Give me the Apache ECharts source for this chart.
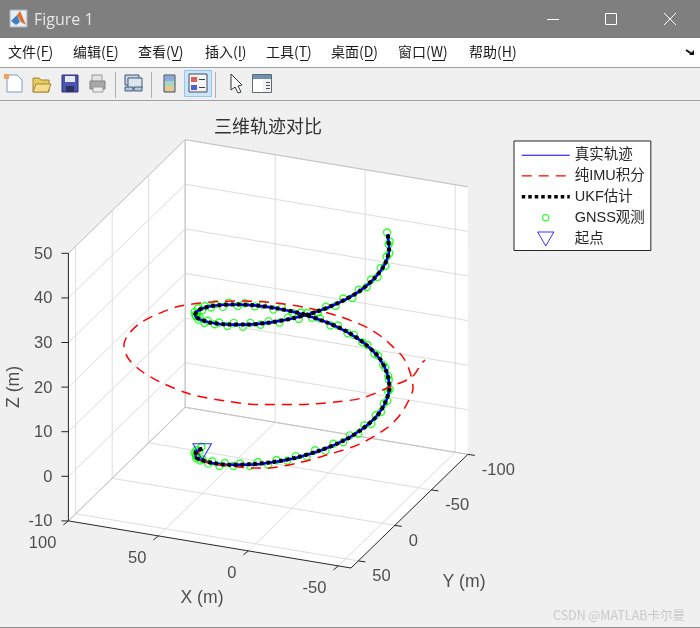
<!DOCTYPE html>
<html>
<head>
<meta charset="utf-8">
<title>三维轨迹对比</title>
<script src="https://cdn.jsdelivr.net/npm/echarts@6/dist/echarts.min.js"></script>
<style>
  html, body { margin: 0; padding: 0; background: #f0f0f0; }
  #chart { width: 700px; height: 628px; }
</style>
</head>
<body>
<div id="chart"></div>
<script>
// 轴刻度
const xTicks = [100, 50, 0, -50];
const yTicks = [-100, -50, 0, 50];
const zTicks = [-10, 0, 10, 20, 30, 40, 50];
const xLim = [-57, 100];
const yLim = [-100, 60];
const zLim = [-10, 50];

// 真实轨迹
const trueX = [50, 48.4, 43.9, 36.6, 27, 15.8, 3.5, -8.9, -20.8, -31.4, -40.1, -46.2, -49.5, -49.7, -46.8, -41, -32.7, -22.3, -10.5, 1.9, 14.2, 25.6, 35.4, 43.1, 48, 50, 48.8, 44.7, 37.7, 28.4, 17.3, 5.2, -7.3, -19.4, -30.1, -39, -45.6, -49.2, -49.9, -47.4, -42];
const trueY = [0, 12.4, 24, 34.1, 42.1, 47.4, 49.9, 49.2, 45.5, 38.9, 29.9, 19.1, 7.1, -5.4, -17.5, -28.6, -37.8, -44.8, -48.9, -50, -47.9, -42.9, -35.3, -25.4, -14, -1.7, 10.8, 22.5, 32.8, 41.2, 46.9, 49.7, 49.5, 46.1, 39.9, 31.3, 20.6, 9, -3.8, -15.9, -27.2];
const trueZ = [0, 1.25, 2.5, 3.75, 5, 6.25, 7.5, 8.75, 10, 11.25, 12.5, 13.75, 15, 16.25, 17.5, 18.75, 20, 21.25, 22.5, 23.75, 25, 26.25, 27.5, 28.75, 30, 31.25, 32.5, 33.75, 35, 36.25, 37.5, 38.75, 40, 41.25, 42.5, 43.75, 45, 46.25, 47.5, 48.75, 50];

// 纯IMU积分
const imuX = [50, 44, 27.2, 13.6, 1.4, -7.9, -25.3, -39.3, -50.2, -58, -58.9, -57.4, -55.2, -48.1, -39.7, -32.2, -24.3, -15.5, -6.7, 1.2, 17.1, 33.5, 48.3, 61.4, 73.5, 79.6, 84.2, 84.1, 81.1, 73.3, 63.5, 50.4, 32.5, 14.6, -2.6, -20.1, -33.7, -43.5, -50.3, -53.7, -50.5, -50.5];
const imuY = [0, 24.2, 42.6, 49.1, 54.4, 56.8, 54.2, 45.1, 31.5, 13.1, -2.4, -16.9, -29.4, -42.7, -53.9, -58.7, -63.1, -65.7, -65.6, -65.6, -63.8, -59, -51.7, -41.6, -27.6, -15.2, 0.8, 17.6, 30.5, 44.2, 51.9, 56.9, 60, 56, 50.6, 38.8, 24.5, 11.6, -12.7, -31.7, -53.3, -57.5];
const imuZ = [0, 2.5, 5, 6.4, 7.6, 8.6, 10.5, 12, 12.8, 14, 14.5, 15, 16, 17, 18, 19, 20, 21, 22, 22.6, 23.6, 24.4, 25, 25.5, 26, 26, 26, 26, 26, 25.8, 25, 24, 23, 22, 21.5, 20.8, 20, 19.5, 18.8, 18, 17.5, 17.5];

// UKF估计
const ukfX = [50, 48.7, 43.6, 36.9, 27.3, 15.5, 3.8, -8.6, -21.1, -31.1, -40.4, -46, -49.8, -49.4, -47.1, -40.7, -33, -22, -10.8, 2.2, 13.9, 25.9, 35.1, 43.4, 47.7, 50.3, 48.5, 45, 37.4, 28.7, 17, 5.5, -7.6, -19.1, -30.4, -38.7, -45.9, -49, -50.1, -47.2, -42];
const ukfY = [0, 12.1, 24.3, 33.8, 42.4, 47.1, 50.2, 48.9, 45.8, 38.6, 30.2, 18.8, 7.4, -5.7, -17.2, -28.9, -37.5, -45.1, -48.6, -50.3, -47.6, -43.2, -35, -25.7, -13.7, -2, 11.1, 22.2, 33.1, 40.9, 47.2, 49.4, 49.8, 45.8, 40.2, 31, 20.9, 8.7, -3.5, -16.2, -27.2];
const ukfZ = [0, 1.3, 2.4, 3.8, 5.1, 6.2, 7.6, 8.7, 10.1, 11.2, 12.6, 13.7, 15.1, 16.2, 17.6, 18.7, 20.1, 21.2, 22.6, 23.7, 25.1, 26.2, 27.6, 28.7, 30.1, 31.2, 32.6, 33.7, 35.1, 36.2, 37.6, 38.7, 40.1, 41.2, 42.6, 43.7, 45.1, 46.2, 47.6, 48.7, 50];

// GNSS观测
const gnssX = [50.6, 49.3, 49.5, 47.2, 46.6, 43.3, 41.9, 37.7, 35.4, 30.5, 27.6, 22.1, 18.8, 12.8, 9.1, 3, -0.9, -7, -10.8, -16.7, -20.2, -25.8, -28.8, -33.9, -36.3, -40.7, -42.2, -45.7, -46.6, -49.1, -49, -50.5, -49.4, -49.9, -47.8, -47.3, -44.5, -42.9, -39.1, -36.8, -32.1, -29.3, -23.9, -20.6, -14.8, -11.1, -5, -1.2, 5, 8.7, 14.8, 18.3, 24, 27.1, 32.3, 34.8, 39.4, 41.1, 44.9, 45.8, 48.6, 48.6, 50.4, 49.4, 50.2, 48.2, 48.1, 45.1, 44, 40.2, 38.3, 33.6, 31, 25.7, 22.6, 16.7, 13.1, 7.1, 3.3, -2.9, -6.7, -12.8, -16.4, -22.2, -25.4, -30.7, -33.4, -37.9, -40, -43.9, -45, -48, -48.1, -50.2, -49.4, -50.5, -48.7, -48.7, -45.9, -45.1, -41.4];
const gnssY = [-0.6, 5.6, 9.3, 15.4, 18.9, 24.6, 27.6, 32.8, 35.3, 39.8, 41.5, 45.2, 46, 48.8, 48.7, 50.5, 49.4, 50.2, 48.1, 47.9, 44.9, 43.8, 39.8, 37.9, 33.2, 30.5, 25.2, 22, 16.1, 12.6, 6.5, 2.7, -3.5, -7.3, -13.4, -16.9, -22.7, -25.9, -31.2, -33.8, -38.4, -40.3, -44.2, -45.2, -48.2, -48.3, -50.3, -49.4, -50.4, -48.5, -48.5, -45.7, -44.8, -41, -39.3, -34.7, -32.2, -26.9, -23.8, -18.1, -14.6, -8.5, -4.8, 1.4, 5.2, 11.4, 15, 20.8, 24.1, 29.5, 32.2, 37.1, 39.1, 43.1, 44.3, 47.5, 47.8, 50, 49.3, 50.5, 48.9, 49.1, 46.4, 45.7, 42.1, 40.5, 36.1, 33.9, 28.6, 25.7, 20, 16.4, 10.5, 6.8, 0.6, -3.2, -9.3, -13, -18.9, -22.3, -27.8];
const gnssZ = [0.3, 0.4, 1.2, 1.3, 2.3, 2.2, 3.2, 3.4, 4.2, 4.3, 5.3, 5.2, 6.2, 6.4, 7.2, 7.3, 8.3, 8.2, 9.2, 9.4, 10.2, 10.3, 11.3, 11.2, 12.2, 12.4, 13.2, 13.3, 14.3, 14.2, 15.2, 15.4, 16.2, 16.3, 17.3, 17.2, 18.2, 18.4, 19.2, 19.3, 20.3, 20.2, 21.2, 21.4, 22.2, 22.3, 23.3, 23.2, 24.2, 24.4, 25.2, 25.3, 26.3, 26.2, 27.2, 27.4, 28.2, 28.3, 29.3, 29.2, 30.2, 30.4, 31.2, 31.3, 32.3, 32.2, 33.2, 33.4, 34.2, 34.3, 35.3, 35.2, 36.2, 36.4, 37.2, 37.3, 38.3, 38.2, 39.2, 39.4, 40.2, 40.3, 41.3, 41.2, 42.2, 42.4, 43.2, 43.3, 44.3, 44.2, 45.2, 45.4, 46.2, 46.3, 47.3, 47.2, 48.2, 48.4, 49.2, 49.3, 50.2];

// 起点
const startPoint = [50, 0, 0];

// 菜单 [文字, x, 下划线x, 下划线长]
const menuItems = [['文件(F)', 8, 42, 8], ['编辑(E)', 73, 107, 8], ['查看(V)', 138, 172, 9], ['插入(I)', 205, 239, 3], ['工具(T)', 266, 300, 8], ['桌面(D)', 331, 365, 9], ['窗口(W)', 398, 432, 13], ['帮助(H)', 469, 503, 10]];

const fontLatin = '"Liberation Sans", "Noto Sans CJK SC", sans-serif';
const textColor = '#262626';

// 三维到屏幕像素，MATLAB 视角下的正交投影
function project(x, y, z) {
    return [
        351 - 1.8 * (x - xLim[0]) - 0.73 * (y - yLim[1]),
        568 - 0.3 * (x - xLim[0]) + 0.71 * (y - yLim[1]) - 4.46 * (z - zLim[0])
    ];
}

function projectAll(xs, ys, zs) {
    return xs.map((x, i) => project(x, ys[i], zs[i]));
}

function seg(a, b) {
    return project(a[0], a[1], a[2]).concat(project(b[0], b[1], b[2]));
}

// 一组线段画成一个 custom 系列
function segmentSeries(segs, color, width) {
    return {
        type: 'custom',
        silent: true,
        data: segs,
        renderItem: (params, api) => {
            const p1 = api.coord([api.value(0), api.value(1)]);
            const p2 = api.coord([api.value(2), api.value(3)]);
            return {
                type: 'line',
                shape: { x1: p1[0], y1: p1[1], x2: p2[0], y2: p2[1] },
                style: { stroke: color, lineWidth: width, fill: null }
            };
        }
    };
}

// 刻度文字用无符号点加标签
function labelSeries(points, align, offset, fontSize, rotate) {
    return {
        type: 'scatter',
        silent: true,
        symbolSize: 0,
        data: points,
        label: {
            show: true,
            position: 'inside',
            formatter: p => p.value[2],
            align: align,
            verticalAlign: 'middle',
            offset: offset,
            rotate: rotate || 0,
            fontFamily: fontLatin,
            fontSize: fontSize,
            color: textColor,
            textBorderWidth: 0
        }
    };
}

// 坐标区白底
const backCorners = [
    [xLim[1], yLim[1], zLim[0]], [xLim[1], yLim[1], zLim[1]], [xLim[1], yLim[0], zLim[1]],
    [xLim[0], yLim[0], zLim[1]], [xLim[0], yLim[0], zLim[0]], [xLim[0], yLim[1], zLim[0]]
].map(c => project(c[0], c[1], c[2]));

const wallSeries = {
    type: 'custom',
    silent: true,
    data: [backCorners.flat()],
    renderItem: (params, api) => {
        const pts = [];
        for (let i = 0; i < backCorners.length; i++) {
            pts.push(api.coord([api.value(i * 2), api.value(i * 2 + 1)]));
        }
        return { type: 'polygon', shape: { points: pts }, style: { fill: '#ffffff' } };
    }
};

// 网格线
const gridSegs = [];
xTicks.forEach(x => {
    gridSegs.push(seg([x, yLim[0], zLim[0]], [x, yLim[1], zLim[0]]));
    gridSegs.push(seg([x, yLim[0], zLim[0]], [x, yLim[0], zLim[1]]));
});
yTicks.forEach(y => {
    gridSegs.push(seg([xLim[0], y, zLim[0]], [xLim[1], y, zLim[0]]));
    gridSegs.push(seg([xLim[1], y, zLim[0]], [xLim[1], y, zLim[1]]));
});
zTicks.forEach(z => {
    gridSegs.push(seg([xLim[1], yLim[0], z], [xLim[1], yLim[1], z]));
    gridSegs.push(seg([xLim[0], yLim[0], z], [xLim[1], yLim[0], z]));
});

// 后面的框线
const backEdges = [
    seg([xLim[1], yLim[0], zLim[0]], [xLim[1], yLim[0], zLim[1]]),
    seg([xLim[1], yLim[0], zLim[1]], [xLim[1], yLim[1], zLim[1]]),
    seg([xLim[1], yLim[0], zLim[1]], [xLim[0], yLim[0], zLim[1]]),
    seg([xLim[1], yLim[0], zLim[0]], [xLim[1], yLim[1], zLim[0]]),
    seg([xLim[1], yLim[0], zLim[0]], [xLim[0], yLim[0], zLim[0]])
];

// 坐标轴和刻度线
const axisSegs = [
    seg([xLim[1], yLim[1], zLim[0]], [xLim[0], yLim[1], zLim[0]]),
    seg([xLim[0], yLim[1], zLim[0]], [xLim[0], yLim[0], zLim[0]]),
    seg([xLim[1], yLim[1], zLim[0]], [xLim[1], yLim[1], zLim[1]])
];
xTicks.forEach(x => {
    const p = project(x, yLim[1], zLim[0]);
    axisSegs.push([p[0], p[1], p[0] - 5, p[1] + 4]);
});
yTicks.forEach(y => {
    const p = project(xLim[0], y, zLim[0]);
    axisSegs.push([p[0], p[1], p[0] + 7, p[1] + 1]);
});
zTicks.forEach(z => {
    const p = project(xLim[1], yLim[1], z);
    axisSegs.push([p[0], p[1], p[0] - 7, p[1]]);
});

const xLabelPts = xTicks.map(x => project(x, yLim[1], zLim[0]).concat(String(x)));
const yLabelPts = yTicks.map(y => project(xLim[0], y, zLim[0]).concat(String(y)));
const zLabelPts = zTicks.map(z => project(xLim[1], yLim[1], z).concat(String(z)));

// ---- 窗口外观 ----
function rect(x, y, w, h, fill, stroke) {
    return { type: 'rect', shape: { x, y, width: w, height: h }, style: { fill: fill, stroke: stroke || null, lineWidth: 1 }, silent: true };
}
function poly(points, fill, stroke) {
    return { type: 'polygon', shape: { points }, style: { fill: fill, stroke: stroke || null, lineWidth: 1 }, silent: true };
}
function hline(x1, y1, x2, y2, color, w) {
    return { type: 'line', shape: { x1, y1, x2, y2 }, style: { stroke: color, lineWidth: w || 1 }, silent: true };
}
function text(str, x, y, font, color) {
    return { type: 'text', x, y, style: { text: str, font, fill: color, verticalAlign: 'middle' }, silent: true };
}

const chrome = [
    rect(0, 0, 700, 628, '#f0f0f0'),
    rect(0, 0, 700, 38, '#7f7f7f'),
    rect(0, 38, 700, 29, '#ffffff'),
    hline(0, 67.5, 700, 67.5, '#a0a0a0'),
    hline(0, 100.5, 700, 100.5, '#a0a0a0'),
    hline(0, 627.5, 700, 627.5, '#8c8c8c'),
    // 标题栏
    rect(10, 10, 17, 17, '#e8eef4', '#a8b4c0'),
    poly([[11, 21], [17, 15], [20, 22], [16, 25]], '#3d7fc4'),
    poly([[17, 15], [20, 11], [26, 25], [21, 22]], '#e0702a'),
    text('Figure 1', 34, 20, '16px "Open Sans", sans-serif', '#e6e6e6'),
    hline(547, 19.5, 559, 19.5, '#ffffff'),
    rect(605.5, 13.5, 11, 11, null, '#ffffff'),
    hline(664, 13, 676, 25, '#ffffff'),
    hline(676, 13, 664, 25, '#ffffff'),
    // 菜单右侧箭头
    hline(686, 50, 692, 54, '#111111', 2),
    poly([[689, 55], [694, 55], [694, 50]], '#111111'),
    // 工具栏：新建
    poly([[7, 75], [17, 75], [22, 80], [22, 92], [7, 92]], '#ffffff', '#7a9cc0'),
    rect(4, 74, 5, 5, '#f0a060'),
    // 打开
    poly([[33, 78], [39, 78], [41, 80], [49, 80], [49, 92], [33, 92]], '#e8c860', '#a08830'),
    poly([[36, 84], [51, 84], [48, 92], [33, 92]], '#f4dc8c', '#a08830'),
    // 保存
    rect(62, 75, 16, 17, '#4a55b0', '#2a3080'),
    rect(65, 76, 10, 6, '#e8e8f4'),
    rect(66, 86, 8, 6, '#303060'),
    // 打印
    rect(92, 75, 10, 7, '#e4e4e4', '#999999'),
    rect(90, 81, 15, 8, '#a8a8a8', '#808080'),
    rect(93, 87, 10, 5, '#eeeeee', '#999999'),
    hline(115.5, 72, 115.5, 98, '#b0b0b0'),
    // 链接
    rect(125, 75, 14, 10, '#c8d4e4', '#3c5878'),
    rect(128, 78, 14, 10, '#dde6f0', '#3c5878'),
    rect(125, 87, 8, 4, '#b8c8d8', '#3c5878'),
    rect(134, 87, 8, 4, '#b8c8d8', '#3c5878'),
    hline(151.5, 72, 151.5, 98, '#b0b0b0'),
    // 色标
    rect(164, 75, 11, 17, '#a8d8c0', '#404860'),
    rect(165, 76, 9, 5, '#90a8e0'),
    rect(165, 86, 9, 5, '#e8c890'),
    // 图例（选中）
    rect(184.5, 70.5, 27, 26, '#cde6f7', '#90c8f0'),
    rect(189, 74, 18, 18, '#f4f4f4', '#404860'),
    rect(191, 77, 6, 5, '#e06060'),
    rect(191, 85, 6, 5, '#5060d0'),
    hline(199, 79.5, 205, 79.5, '#404040'),
    hline(199, 87.5, 205, 87.5, '#404040'),
    hline(215.5, 72, 215.5, 98, '#b0b0b0'),
    // 光标
    poly([[231, 74], [231, 90], [235, 87], [238, 93], [241, 92], [238, 86], [242, 85]], '#ffffff', '#333333'),
    // 停靠
    rect(252.5, 74.5, 19, 18, '#f0f0f0', '#606870'),
    rect(253, 75, 18, 4, '#7090b0'),
    rect(253, 79, 10, 13, '#ffffff'),
    hline(266, 82.5, 270, 82.5, '#505050'),
    hline(266, 85.5, 270, 85.5, '#505050'),
    hline(266, 88.5, 270, 88.5, '#505050'),
    // 水印
    text('CSDN @MATLAB卡尔曼', 553, 615, '12.5px "Noto Sans CJK SC", sans-serif', '#cacaca')
];
menuItems.forEach(m => {
    chrome.push(text(m[0], m[1], 52, '14px "Noto Sans CJK SC", sans-serif', '#1a1a1a'));
    chrome.push(hline(m[2], 60.5, m[2] + m[3], 60.5, '#1a1a1a'));
});

// ---- 图表 ----
const triangleIcon = 'path://M0 0H18.6L9.3 16Z';
// 前两段只用来撑开图标框，让绿点保持小尺寸
const gnssIcon = 'path://M-7 -7M7 7M-3 -1.5L-1.5 -3H1.5L3 -1.5V1.5L1.5 3H-1.5L-3 1.5Z';
const hideSymbol = { color: 'rgba(0,0,0,0)', borderWidth: 0 };

const chart = echarts.init(document.getElementById('chart'));
chart.setOption({
    animation: false,
    graphic: { elements: chrome },
    title: {
        text: '三维轨迹对比',
        left: 214,
        top: 117,
        padding: 0,
        textStyle: { fontFamily: '"Noto Sans CJK SC", sans-serif', fontSize: 18, fontWeight: 'normal', color: '#333333' }
    },
    legend: {
        orient: 'vertical',
        left: 514,
        top: 141,
        padding: [7, 6, 4, 6],
        itemWidth: 48,
        itemHeight: 14,
        itemGap: 6.2,
        selectedMode: false,
        backgroundColor: '#ffffff',
        borderColor: '#262626',
        borderWidth: 1,
        textStyle: { fontFamily: fontLatin, fontSize: 14.5, color: textColor },
        data: [
            { name: '真实轨迹', itemStyle: hideSymbol, lineStyle: { width: 1 } },
            { name: '纯IMU积分', itemStyle: hideSymbol, lineStyle: { width: 1.2 } },
            { name: 'UKF估计', itemStyle: hideSymbol, lineStyle: { width: 3.5 } },
            { name: 'GNSS观测', icon: gnssIcon, itemStyle: { color: '#ffffff', borderColor: '#00ff00', borderWidth: 1.2 } },
            { name: '起点', icon: triangleIcon, itemStyle: { color: '#ffffff', borderColor: '#0000ff', borderWidth: 1 } }
        ]
    },
    grid: { left: 0, right: 0, top: 0, bottom: 0 },
    xAxis: { type: 'value', min: 0, max: 700, show: false },
    yAxis: { type: 'value', min: 0, max: 628, inverse: true, show: false },
    series: [
        wallSeries,
        segmentSeries(gridSegs, '#dcdcdc', 1),
        segmentSeries(backEdges, '#c4c4c4', 1),
        segmentSeries(axisSegs, '#262626', 1),
        labelSeries(xLabelPts, 'right', [-12, 23], 16.5),
        labelSeries(yLabelPts, 'left', [14, 16], 16.5),
        labelSeries(zLabelPts, 'right', [-16, 1], 16.5),
        {
            name: '真实轨迹', type: 'line', data: projectAll(trueX, trueY, trueZ),
            symbol: 'none', smooth: 0.3, silent: true,
            lineStyle: { color: '#0000ff', width: 2.6 }
        },
        {
            name: '纯IMU积分', type: 'line', data: projectAll(imuX, imuY, imuZ),
            symbol: 'none', smooth: 0.3, silent: true,
            lineStyle: { color: '#ff0000', width: 1.5, type: [10, 7] }
        },
        {
            name: 'UKF估计', type: 'line', data: projectAll(ukfX, ukfY, ukfZ),
            symbol: 'none', smooth: 0.3, silent: true,
            lineStyle: { color: '#000000', width: 4, type: [3.5, 3] }
        },
        {
            name: 'GNSS观测', type: 'scatter', data: projectAll(gnssX, gnssY, gnssZ),
            symbol: 'circle', symbolSize: 7, silent: true,
            itemStyle: { color: 'rgba(0,0,0,0)', borderColor: '#00ff00', borderWidth: 1.4 }
        },
        {
            name: '起点', type: 'scatter', data: [project(startPoint[0], startPoint[1], startPoint[2])],
            symbol: triangleIcon, symbolSize: [18.6, 16], symbolOffset: [0, 3], silent: true,
            itemStyle: { color: 'rgba(0,0,0,0)', borderColor: '#0000ff', borderWidth: 1 }
        },
        // 轴标题放在屏幕位置旁
        labelSeries([[202, 598, 'X (m)'], [464, 582, 'Y (m)']], 'center', [0, 0], 17.6),
        labelSeries([[14, 387, 'Z (m)']], 'center', [0, 0], 17.6, 90)
    ]
});
</script>
</body>
</html>
